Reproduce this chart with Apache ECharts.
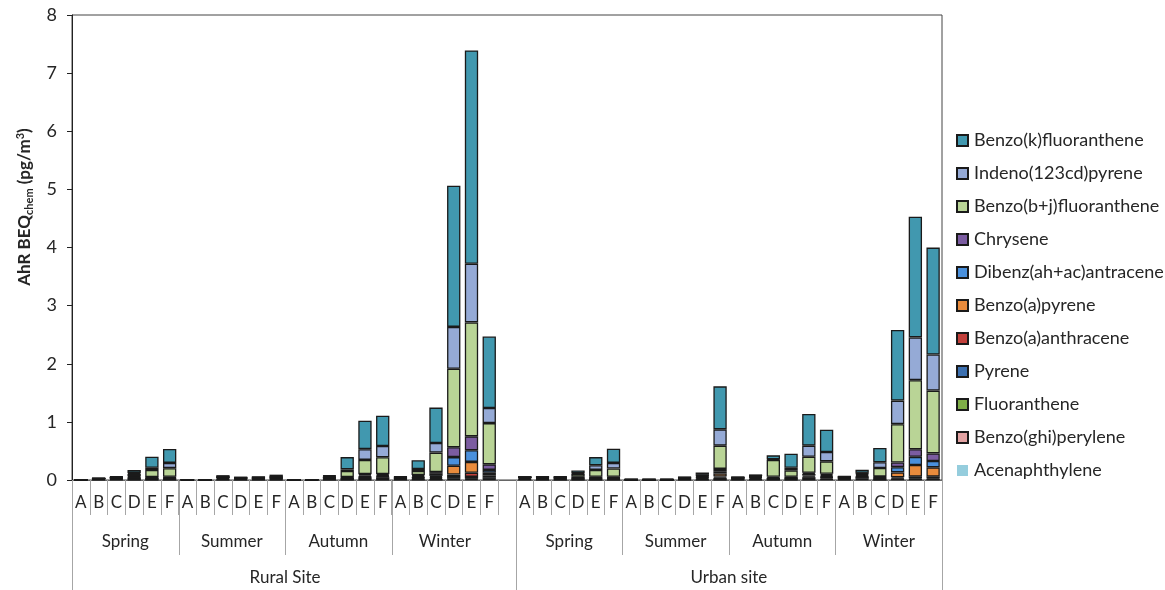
<!DOCTYPE html>
<html>
<head>
<meta charset="utf-8">
<script src="https://cdn.jsdelivr.net/npm/echarts@6/dist/echarts.min.js"></script>
<style>
  html, body { margin: 0; padding: 0; background: #ffffff; }
  #chart { width: 1165px; height: 590px; }
</style>
</head>
<body>
<div id="chart"></div>
<script>
// Grouping of the x axis: site > season > sample
const sites = ['Rural Site', 'Urban site'];
const seasons = ['Spring', 'Summer', 'Autumn', 'Winter'];
const samples = ['A', 'B', 'C', 'D', 'E', 'F'];

// AhR BEQchem contributions (pg/m3); 24 rural samples followed by 24 urban samples
const acenaphthylene = [
  0.001,0.001,0.001,0.001,0.001,0.001, 0.001,0.001,0.001,0.001,0.001,0.001, 0.001,0.001,0.001,0.001,0.001,0.001, 0.001,0.001,0.001,0.001,0.001,0.001,
  0.001,0.001,0.001,0.001,0.001,0.001, 0.001,0.001,0.001,0.001,0.001,0.001, 0.001,0.001,0.001,0.001,0.001,0.001, 0.001,0.001,0.001,0.001,0.001,0.001
];
const benzoGhiPerylene = [
  0,0.003,0.005,0.003,0.003,0.003, 0,0,0.003,0.003,0.003,0.003, 0,0,0.003,0.003,0.005,0.005, 0.005,0.005,0.005,0.01,0.012,0.008,
  0.005,0.003,0.003,0.003,0.003,0.003, 0.001,0.001,0.001,0.003,0.003,0.005, 0.005,0.005,0.003,0.005,0.005,0.01, 0.005,0.01,0.005,0.008,0.008,0.008
];
const fluoranthene = [
  0.002,0.01,0.01,0.005,0.005,0.005, 0.002,0.002,0.01,0.01,0.01,0.01, 0.002,0.002,0.01,0.005,0.01,0.01, 0.01,0.01,0.01,0.01,0.01,0.01,
  0.01,0.005,0.005,0.005,0.005,0.005, 0.002,0.002,0.002,0.005,0.01,0.005, 0.005,0.01,0.005,0.005,0.01,0.01, 0.008,0.01,0.005,0.005,0.005,0.005
];
const pyrene = [
  0.002,0.01,0.015,0.02,0.015,0.015, 0.002,0.002,0.02,0.01,0.01,0.015, 0.002,0.002,0.015,0.01,0.025,0.03, 0.01,0.015,0.02,0.03,0.03,0.03,
  0.02,0.015,0.015,0.015,0.015,0.015, 0.002,0.002,0.002,0.01,0.02,0.03, 0.01,0.02,0.01,0.015,0.03,0.02, 0.012,0.03,0.012,0.012,0.014,0.014
];
const benzoAAnthracene = [
  0,0,0.002,0.003,0.003,0.005, 0,0,0.005,0.002,0.002,0.003, 0,0,0.005,0.005,0.01,0.01, 0.003,0.008,0.015,0.043,0.073,0.03,
  0.003,0.005,0.005,0.005,0.005,0.005, 0,0,0,0.003,0.005,0.02, 0.005,0.008,0.005,0.005,0.01,0.01, 0.005,0.01,0.008,0.02,0.03,0.03
];
const benzoAPyrene = [
  0,0,0.002,0.005,0.005,0.005, 0,0,0.005,0.002,0.002,0.005, 0,0,0.005,0.005,0.01,0.01, 0.003,0.01,0.02,0.15,0.185,0.045,
  0.003,0.005,0.005,0.005,0.005,0.005, 0.001,0.001,0.001,0.005,0.01,0.05, 0.005,0.008,0.005,0.005,0.02,0.015, 0.005,0.01,0.01,0.085,0.2,0.16
];
const dibenzAnthracene = [
  0,0,0.003,0.02,0.01,0.01, 0,0,0.005,0.005,0.005,0.01, 0,0,0.005,0.01,0.02,0.015, 0.005,0.02,0.035,0.15,0.2,0.05,
  0.003,0.005,0.005,0.01,0.01,0.01, 0.001,0.001,0.001,0.005,0.015,0.04, 0.005,0.008,0.005,0.01,0.03,0.02, 0.005,0.02,0.01,0.09,0.14,0.11
];
const chrysene = [
  0,0,0.003,0.01,0.01,0.01, 0,0,0.005,0.005,0.005,0.005, 0,0,0.005,0.01,0.02,0.02, 0.005,0.015,0.03,0.17,0.24,0.095,
  0.003,0.005,0.005,0.01,0.01,0.01, 0.001,0.001,0.001,0.005,0.01,0.04, 0.005,0.008,0.02,0.01,0.02,0.02, 0.005,0.015,0.01,0.08,0.13,0.13
];
const benzoBJFluoranthene = [
  0,0.005,0.01,0.04,0.12,0.15, 0,0,0.01,0.005,0.01,0.005, 0,0,0.015,0.105,0.245,0.29, 0.01,0.07,0.335,1.35,1.96,0.71,
  0.005,0.01,0.01,0.05,0.12,0.145, 0,0,0,0.005,0.005,0.40, 0.005,0.01,0.29,0.11,0.275,0.215, 0.01,0.01,0.145,0.66,1.19,1.08
];
const indenoPyrene = [
  0,0,0.003,0.015,0.04,0.09, 0,0,0.003,0,0,0.005, 0,0,0.005,0.03,0.185,0.195, 0.003,0.035,0.165,0.72,1.01,0.26,
  0,0.002,0.002,0.01,0.08,0.095, 0,0,0,0.003,0.01,0.28, 0,0.003,0.01,0.045,0.19,0.16, 0.003,0.01,0.10,0.405,0.735,0.62
];
const benzoKFluoranthene = [
  0,0.003,0.01,0.05,0.19,0.24, 0,0,0.005,0.005,0.005,0.03, 0,0,0.01,0.21,0.49,0.52, 0.005,0.15,0.61,2.43,3.67,1.23,
  0.003,0.005,0.005,0.05,0.14,0.245, 0,0,0,0.005,0.04,0.74, 0.003,0.005,0.07,0.24,0.545,0.385, 0.005,0.05,0.245,1.215,2.075,1.84
];

// Stack order, bottom to top
const compounds = [
  { name: 'Acenaphthylene',          values: acenaphthylene,      color: '#95CDDD', border: 0 },
  { name: 'Benzo(ghi)perylene',      values: benzoGhiPerylene,    color: '#E3A3A3' },
  { name: 'Fluoranthene',            values: fluoranthene,        color: '#7FAE48' },
  { name: 'Pyrene',                  values: pyrene,              color: '#3C70B0' },
  { name: 'Benzo(a)anthracene',      values: benzoAAnthracene,    color: '#C2403B' },
  { name: 'Benzo(a)pyrene',          values: benzoAPyrene,        color: '#E98B3C' },
  { name: 'Dibenz(ah+ac)antracene',  values: dibenzAnthracene,    color: '#4A90DC' },
  { name: 'Chrysene',                values: chrysene,            color: '#7B5CA1' },
  { name: 'Benzo(b+j)fluoranthene',  values: benzoBJFluoranthene, color: '#B9D496' },
  { name: 'Indeno(123cd)pyrene',     values: indenoPyrene,        color: '#95AAD6' },
  { name: 'Benzo(k)fluoranthene',    values: benzoKFluoranthene,  color: '#4198AF' }
];

// Category slots: rural samples, one empty spacer slot, urban samples
const perSite = seasons.length * samples.length;
const categories = [];
sites.forEach((site, si) => {
  seasons.forEach(season => {
    samples.forEach(s => categories.push(site + '|' + season + '|' + s));
  });
  if (si < sites.length - 1) categories.push('spacer');
});
const siteStart = si => si * (perSite + 1);

function withSpacer(arr) {
  const out = [];
  sites.forEach((_, si) => {
    for (let i = 0; i < perSite; i++) out.push(arr[si * perSite + i]);
    if (si < sites.length - 1) out.push(null);
  });
  return out;
}

const FONT = 'Lato, "Open Sans", sans-serif';
const TEXT = '#262626';
const chart = echarts.init(document.getElementById('chart'), null, { renderer: 'canvas' });

const option = {
  animation: false,
  backgroundColor: '#ffffff',
  grid: {
    left: 72, right: 223, top: 15, bottom: 110,
    show: true, borderColor: '#444', borderWidth: 1, backgroundColor: 'transparent'
  },
  legend: {
    orient: 'vertical',
    left: 951,
    top: 126,
    itemWidth: 11,
    itemHeight: 11,
    itemGap: 14,
    icon: 'rect',
    data: compounds.map(c => c.name).reverse(),
    textStyle: { fontFamily: FONT, fontSize: 18, color: TEXT, lineHeight: 19, padding: [0, 0, 0, 1] }
  },
  xAxis: {
    type: 'category',
    data: categories,
    axisLine: { show: true, lineStyle: { color: '#666', width: 1 } },
    axisTick: { show: true, interval: 0, length: 35, lineStyle: { color: '#a6a6a6', width: 1 } },
    axisLabel: {
      interval: 0,
      margin: 14,
      fontFamily: FONT, fontSize: 17, color: TEXT,
      formatter: v => v === 'spacer' ? '' : v.split('|')[2]
    },
    splitLine: { show: false }
  },
  yAxis: {
    type: 'value',
    min: 0, max: 8, interval: 1,
    axisLine: { show: true, lineStyle: { color: '#222', width: 1 } },
    axisTick: { show: true, length: 5, lineStyle: { color: '#222' } },
    axisLabel: { margin: 15, fontFamily: FONT, fontSize: 18, color: TEXT },
    splitLine: { show: false }
  },
  series: compounds.map(c => ({
    name: c.name,
    type: 'bar',
    stack: 'total',
    barWidth: '75%',
    data: withSpacer(c.values),
    itemStyle: {
      color: c.color,
      borderColor: '#1a1a1a',
      borderWidth: c.border === 0 ? 0 : 1.3
    },
    emphasis: { disabled: true }
  }))
};
chart.setOption(option);

// Hierarchical axis dividers and group labels below the letters
function buildAxisDecor() {
  const c0 = chart.convertToPixel({ xAxisIndex: 0 }, 0);
  const c1 = chart.convertToPixel({ xAxisIndex: 0 }, 1);
  const slot = c1 - c0;
  const edge = idx => chart.convertToPixel({ xAxisIndex: 0 }, idx) - slot / 2;
  const y0 = chart.convertToPixel({ yAxisIndex: 0 }, 0);
  const lineColor = '#a6a6a6';
  const els = [];
  const vline = (x, y2) => els.push({
    type: 'line', silent: true,
    shape: { x1: Math.round(x) + 0.5, y1: y0, x2: Math.round(x) + 0.5, y2: y2 },
    style: { stroke: lineColor, lineWidth: 1 }
  });
  const label = (x, y, text) => els.push({
    type: 'text', silent: true, x: x, y: y,
    style: { text: text, fill: TEXT, font: '17px ' + FONT, align: 'center', verticalAlign: 'middle' }
  });

  sites.forEach((site, si) => {
    const start = siteStart(si);
    seasons.forEach((season, k) => {
      const s0 = start + k * samples.length;
      if (k > 0) vline(edge(s0), y0 + 75);
      label((edge(s0) + edge(s0 + samples.length)) / 2, y0 + 62, season);
    });
    vline(edge(start), 590);
    label((edge(start) + edge(start + perSite)) / 2, y0 + 98, site);
  });
  vline(edge(categories.length), 590);

  // Rotated y-axis title with subscript and superscript
  els.push({
    type: 'text', silent: true,
    x: 25, y: 207, rotation: Math.PI / 2,
    style: {
      text: '{b|AhR BEQ}{s|chem}{b| (pg/m}{p|3}{b|)}',
      align: 'center', verticalAlign: 'middle',
      rich: {
        b: { font: 'bold 17px ' + FONT, fill: TEXT, lineHeight: 20, verticalAlign: 'middle' },
        s: { font: 'bold 11px ' + FONT, fill: TEXT, lineHeight: 20, verticalAlign: 'bottom', padding: [6, 0, 0, 0] },
        p: { font: 'bold 11px ' + FONT, fill: TEXT, lineHeight: 20, verticalAlign: 'top', padding: [0, 0, 6, 0] }
      }
    }
  });
  chart.setOption({ graphic: { elements: els } });
}
buildAxisDecor();
</script>
</body>
</html>
